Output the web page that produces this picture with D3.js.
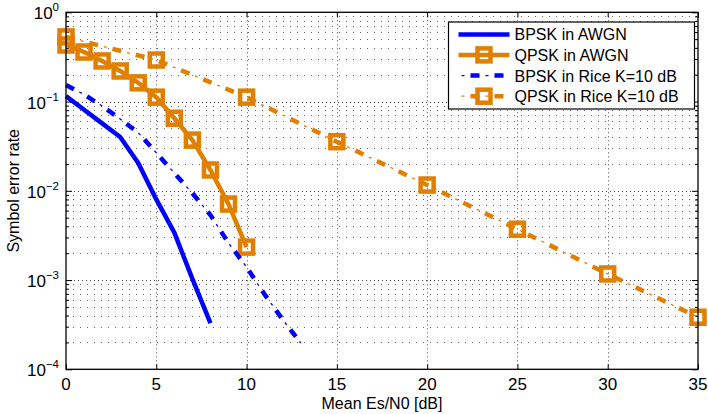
<!DOCTYPE html>
<html>
<head>
<meta charset="utf-8">
<script src="https://cdn.jsdelivr.net/npm/d3@7"></script>
<style>
  body { margin: 0; background: #fff; }
  svg { display: block; font-family: "Liberation Sans", Arial, Helvetica, sans-serif; }
</style>
</head>
<body>
<svg id="chart" width="708" height="414"></svg>
<script>
// Symbol error rate vs. mean Es/N0 for BPSK and QPSK, AWGN and Rician channels
const snrBpskAwgn = [0, 1, 2, 3, 4, 5, 6, 7, 8];
const serBpskAwgn = [0.115, 0.081, 0.057, 0.040, 0.0205, 0.0080, 0.0034, 0.00103, 0.00033];

const snrQpskAwgn = [0, 1, 2, 3, 4, 5, 6, 7, 8, 9, 10];
const serQpskAwgn = [0.43, 0.359, 0.285, 0.22, 0.162, 0.112, 0.065, 0.037, 0.0171, 0.0071, 0.00234];

const snrBpskRice = [0, 1, 2, 3, 4, 5, 6, 7, 8, 9, 10, 11, 12, 13];
const serBpskRice = [0.153, 0.12, 0.089, 0.0638, 0.0448, 0.0267, 0.0158, 0.0094, 0.00535, 0.0026, 0.0014, 0.00069, 0.00036, 0.000197];

const snrQpskRice = [0, 5, 10, 15, 20, 25, 30, 35];
const serQpskRice = [0.53, 0.292, 0.112, 0.0355, 0.0116, 0.00371, 0.00117, 0.000383];

const xTickValues = [0, 5, 10, 15, 20, 25, 30, 35];
const yDecadeExponents = [0, -1, -2, -3, -4];

const seriesNames = ["BPSK in AWGN", "QPSK in AWGN", "BPSK in Rice K=10 dB", "QPSK in Rice K=10 dB"];
const xAxisTitle = "Mean Es/N0 [dB]";
const yAxisTitle = "Symbol error rate";

const BLUE = "#0000ff";
const ORANGE = "#e07f00";
const DASH = "9 15";        // thick dash part of the dash-dot style
const DOT = "0 15 3 6";     // thin dot sitting in the gap

const svg = d3.select("#chart");
const plot = { left: 66, right: 698, top: 12.3, bottom: 369.3 };

const x = d3.scaleLinear().domain([0, 35]).range([plot.left, plot.right]);
const y = d3.scaleLog().domain([1e-4, 1]).range([plot.bottom, plot.top]);

const majorY = yDecadeExponents.map(e => Math.pow(10, e));
const minorY = [];
for (let e = -4; e < 0; e++) for (let d = 2; d <= 9; d++) minorY.push(d * Math.pow(10, e));

// dotted grid
const grid = svg.append("g").attr("class", "grid")
  .attr("stroke", "#000").attr("stroke-width", 1).attr("fill", "none");
grid.selectAll("line.minor").data(minorY).join("line")
  .attr("class", "minor")
  .attr("x1", plot.left).attr("x2", plot.right)
  .attr("y1", d => Math.round(y(d)) + 0.5).attr("y2", d => Math.round(y(d)) + 0.5)
  .attr("stroke-dasharray", "1 6").attr("stroke-opacity", 0.6);
grid.selectAll("line.major").data(majorY).join("line")
  .attr("class", "major")
  .attr("x1", plot.left).attr("x2", plot.right)
  .attr("y1", d => Math.round(y(d)) + 0.5).attr("y2", d => Math.round(y(d)) + 0.5)
  .attr("stroke-dasharray", "1 3").attr("stroke-opacity", 0.75);
grid.selectAll("line.vert").data(xTickValues.slice(1, -1)).join("line")
  .attr("class", "vert")
  .attr("x1", d => Math.round(x(d)) + 0.5).attr("x2", d => Math.round(x(d)) + 0.5)
  .attr("y1", plot.top).attr("y2", plot.bottom)
  .attr("stroke-dasharray", "1 3").attr("stroke-opacity", 0.7);

// axes (ticks point inward)
function styleAxis(g) {
  g.select(".domain").remove();
  g.selectAll(".tick line").attr("stroke", "#000");
  g.selectAll(".tick text").remove();
}
svg.append("g").attr("transform", `translate(0,${plot.bottom})`)
  .call(d3.axisBottom(x).tickValues(xTickValues).tickSize(-5)).call(styleAxis);
svg.append("g").attr("transform", `translate(0,${plot.top})`)
  .call(d3.axisTop(x).tickValues(xTickValues).tickSize(-5)).call(styleAxis);
svg.append("g").attr("transform", `translate(${plot.left},0)`)
  .call(d3.axisLeft(y).tickValues(majorY).tickSize(-6)).call(styleAxis);
svg.append("g").attr("transform", `translate(${plot.left},0)`)
  .call(d3.axisLeft(y).tickValues(minorY).tickSize(-3)).call(styleAxis);
svg.append("g").attr("transform", `translate(${plot.right},0)`)
  .call(d3.axisRight(y).tickValues(majorY).tickSize(-6)).call(styleAxis);
svg.append("g").attr("transform", `translate(${plot.right},0)`)
  .call(d3.axisRight(y).tickValues(minorY).tickSize(-3)).call(styleAxis);

// tick labels
svg.append("g").selectAll("text").data(xTickValues).join("text")
  .attr("x", d => x(d)).attr("y", 390)
  .attr("text-anchor", "middle").attr("font-size", 17).attr("fill", "#000")
  .text(d => d);

const yLabels = svg.append("g").selectAll("text").data(yDecadeExponents).join("text")
  .attr("x", 59).attr("y", d => y(Math.pow(10, d)) + 7)
  .attr("text-anchor", "end").attr("fill", "#000");
yLabels.append("tspan").attr("font-size", 17).text("10");
yLabels.append("tspan").attr("font-size", 11.5).attr("dy", -8)
  .text(d => d === 0 ? "0" : "\u2212" + Math.abs(d));

// axis titles
svg.append("text")
  .attr("x", (plot.left + plot.right) / 2).attr("y", 409)
  .attr("text-anchor", "middle").attr("font-size", 16).attr("fill", "#000")
  .text(xAxisTitle);
svg.append("text")
  .attr("transform", `translate(19,${(plot.top + plot.bottom) / 2}) rotate(-90)`)
  .attr("text-anchor", "middle").attr("font-size", 16).attr("fill", "#000")
  .text(yAxisTitle);

// curves
const line = d3.line().x(d => x(d[0])).y(d => y(d[1]));
const zip = (a, b) => a.map((v, i) => [v, b[i]]);

function drawSolid(g, pts, color) {
  g.append("path").datum(pts).attr("d", line)
    .attr("fill", "none").attr("stroke", color).attr("stroke-width", 4.5)
    .attr("stroke-linejoin", "round");
}
function drawDashDot(g, pts, color) {
  g.append("path").datum(pts).attr("d", line)
    .attr("fill", "none").attr("stroke", color).attr("stroke-width", 4.5)
    .attr("stroke-dasharray", DASH);
  g.append("path").datum(pts).attr("d", line)
    .attr("fill", "none").attr("stroke", color).attr("stroke-width", 1.3)
    .attr("stroke-dasharray", DOT);
}
function drawMarkers(g, pts, color) {
  g.selectAll("rect.mk").data(pts).join("rect").attr("class", "mk")
    .attr("x", d => x(d[0]) - 6.5).attr("y", d => y(d[1]) - 6.5)
    .attr("width", 13).attr("height", 13)
    .attr("fill", "none").attr("stroke", color).attr("stroke-width", 4.5);
}

const curves = svg.append("g");
drawSolid(curves, zip(snrBpskAwgn, serBpskAwgn), BLUE);
const qa = zip(snrQpskAwgn, serQpskAwgn);
drawSolid(curves, qa, ORANGE);
drawMarkers(curves.append("g"), qa, ORANGE);
drawDashDot(curves, zip(snrBpskRice, serBpskRice), BLUE);
const qr = zip(snrQpskRice, serQpskRice);
drawDashDot(curves, qr, ORANGE);
drawMarkers(curves.append("g"), qr, ORANGE);

// plot frame
svg.append("rect")
  .attr("x", plot.left).attr("y", plot.top)
  .attr("width", plot.right - plot.left).attr("height", plot.bottom - plot.top)
  .attr("fill", "none").attr("stroke", "#000").attr("stroke-width", 1.3);

// legend
const lg = { x: 448.5, y: 22, w: 246, h: 87, rowY: [34.4, 54.9, 75.6, 96.2], x1: 458.5, x2: 509.5, tx: 514.5 };
const legend = svg.append("g");
legend.append("rect").attr("x", lg.x).attr("y", lg.y).attr("width", lg.w).attr("height", lg.h)
  .attr("fill", "#fff").attr("stroke", "#000").attr("stroke-width", 1.2);
const lx = d3.scaleLinear().domain([0, 1]).range([lg.x1, lg.x2]);
const legendLine = d3.line().x(d => lx(d[0])).y(d => d[1]);
const styles = [
  { color: BLUE, dash: false, marker: false },
  { color: ORANGE, dash: false, marker: true },
  { color: BLUE, dash: true, marker: false },
  { color: ORANGE, dash: true, marker: true }
];
seriesNames.forEach((name, i) => {
  const ry = lg.rowY[i];
  const st = styles[i];
  const seg = [[0, ry], [1, ry]];
  const g = legend.append("g");
  if (st.dash) {
    g.append("path").datum(seg).attr("d", legendLine).attr("fill", "none")
      .attr("stroke", st.color).attr("stroke-width", 4.5).attr("stroke-dasharray", DASH)
      .attr("stroke-dashoffset", 12);
    g.append("path").datum(seg).attr("d", legendLine).attr("fill", "none")
      .attr("stroke", st.color).attr("stroke-width", 1.3).attr("stroke-dasharray", DOT)
      .attr("stroke-dashoffset", 12);
  } else {
    g.append("path").datum(seg).attr("d", legendLine).attr("fill", "none")
      .attr("stroke", st.color).attr("stroke-width", 4.5);
  }
  if (st.marker) {
    g.append("rect").attr("x", lx(0.5) - 6.5).attr("y", ry - 6.5).attr("width", 13).attr("height", 13)
      .attr("fill", "none").attr("stroke", st.color).attr("stroke-width", 4.5);
  }
  g.append("text").attr("x", lg.tx).attr("y", ry + 6).attr("font-size", 16).attr("fill", "#000")
    .text(name);
});
</script>
</body>
</html>
